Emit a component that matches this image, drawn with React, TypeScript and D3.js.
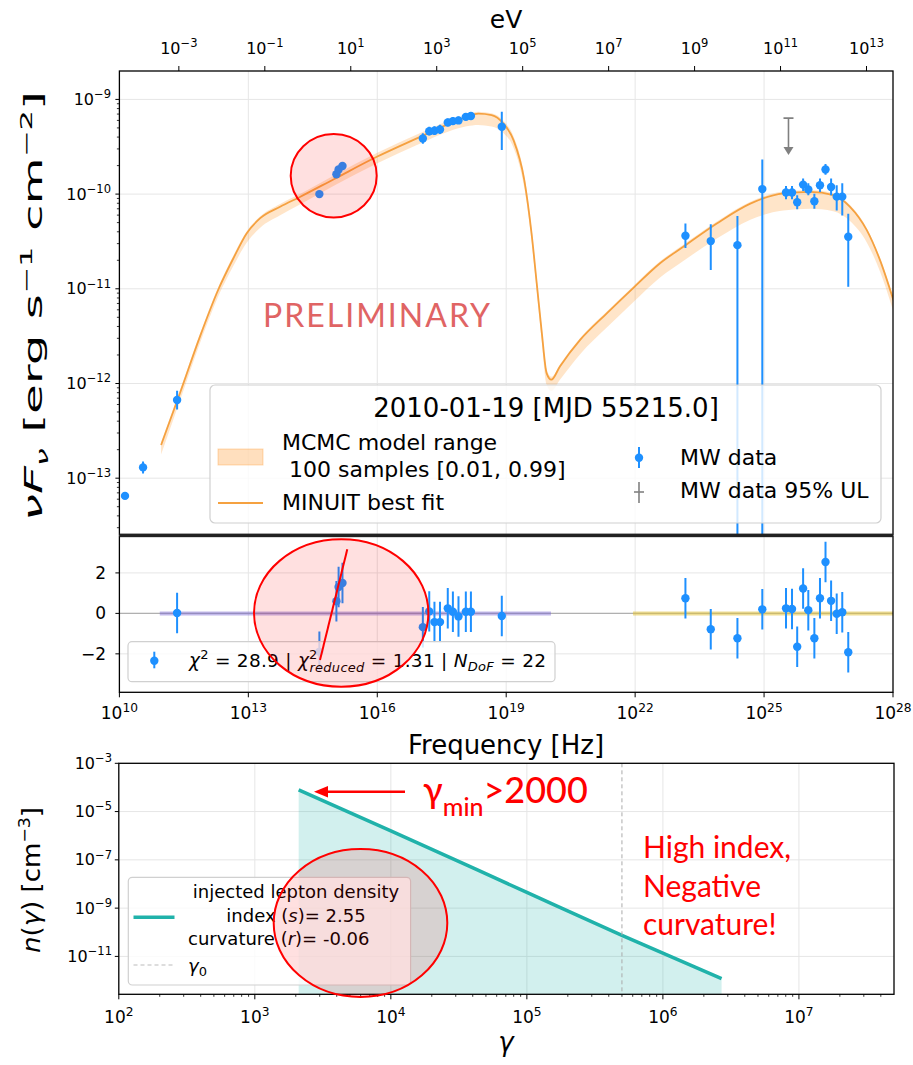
import React from "react";
import * as d3 from "d3";

// ---------------- SED: multi-wavelength data (MW data) ----------------
const dataNu = [1.35e10, 3.55e10, 2.2e11, 4.5e14, 1.12e15, 1.26e15, 1.55e15, 1.15e17, 1.62e17, 2.14e17, 2.88e17, 4.37e17, 5.75e17, 7.76e17, 1.15e18, 1.51e18, 7.9e18, 1.48e23, 5.75e23, 2.4e24, 9.1e24, 3.24e25, 4.47e25, 5.9e25, 8.1e25, 1.07e26, 1.48e26, 2.0e26, 2.69e26, 3.63e26, 4.9e26, 6.6e26, 9.1e26];
const dataFlux = [6.5e-14, 1.3e-13, 6.7e-13, 1.0e-10, 1.62e-10, 1.82e-10, 1.98e-10, 3.87e-10, 4.62e-10, 4.67e-10, 4.82e-10, 5.71e-10, 5.9e-10, 6.0e-10, 6.54e-10, 6.67e-10, 5.14e-10, 3.63e-11, 3.19e-11, 2.89e-11, 1.13e-10, 1.04e-10, 1.04e-10, 8.2e-11, 1.26e-10, 1.12e-10, 8.4e-11, 1.24e-10, 1.82e-10, 1.19e-10, 9.4e-11, 9.4e-11, 3.55e-11];
const dataFluxLo = [6.2e-14, 1.12e-13, 5.3e-13, 0.95e-10, 1.5e-10, 1.68e-10, 1.88e-10, 3.4e-10, 4.15e-10, 4.2e-10, 4.3e-10, 5.2e-10, 5.4e-10, 5.5e-10, 6.0e-10, 6.1e-10, 2.92e-10, 2.7e-11, 1.58e-11, 1e-16, 1e-16, 0.88e-10, 0.88e-10, 6.9e-11, 1.08e-10, 0.97e-10, 7.0e-11, 1.05e-10, 1.6e-10, 0.97e-10, 6.7e-11, 5.96e-11, 1.05e-11];
const dataFluxHi = [6.8e-14, 1.5e-13, 8.4e-13, 1.05e-10, 1.75e-10, 1.97e-10, 2.08e-10, 4.4e-10, 5.15e-10, 5.2e-10, 5.4e-10, 6.3e-10, 6.5e-10, 6.6e-10, 7.2e-10, 7.3e-10, 7.4e-10, 4.9e-11, 4.8e-11, 5.86e-11, 2.32e-10, 1.22e-10, 1.22e-10, 9.7e-11, 1.46e-10, 1.3e-10, 1.01e-10, 1.46e-10, 2.08e-10, 1.46e-10, 1.24e-10, 1.3e-10, 6.2e-11];
const residuals = [null, null, 0.02, -1.9, 0.6, 1.3, 1.5, -0.68, 0.1, -0.43, -0.43, 0.25, 0.08, -0.15, 0.08, 0.08, -0.13, 0.75, -0.78, -1.23, 0.2, 0.25, 0.22, -1.65, 1.23, 0.16, -1.23, 0.75, 2.54, 0.62, -0.02, 0.06, -1.92];
const residualErr = [null, null, 1, 1, 1, 1, 1, 1, 1, 1, 1, 1, 1, 1, 1, 1, 1, 1, 1, 1, 1, 1, 1, 1, 1, 1, 1, 1, 1, 1, 1, 1, 1];

// upper limit (MW data 95% UL)
const ulNu = [3.7e25];
const ulFlux = [6.35e-10];

// ---------------- Model (MINUIT best fit + MCMC range), log10 values ----------------
const modelLogNu = [10.97, 11.41, 11.87, 12.3, 12.65, 12.96, 13.27, 13.74, 14.2, 15.0, 15.99, 17.0, 17.69, 18.08, 18.35, 18.66, 18.93, 19.17, 19.42, 19.59, 19.71, 19.83, 19.94, 20.05, 20.25, 20.72, 21.34, 21.96, 22.58, 23.12, 23.9, 24.68, 25.45, 26.07, 26.61, 27.0, 27.39, 27.7, 28.01];
const modelLogBest = [-12.65, -12.1, -11.51, -11.01, -10.68, -10.415, -10.257, -10.134, -10.03, -9.84, -9.606, -9.395, -9.253, -9.184, -9.15, -9.166, -9.253, -9.43, -9.85, -10.415, -10.94, -11.47, -11.89, -11.96, -11.82, -11.54, -11.26, -10.99, -10.73, -10.556, -10.31, -10.1, -9.993, -9.976, -10.01, -10.134, -10.38, -10.7, -11.12];
const bandLoDelta = [0.1, 0.08, 0.07, 0.07, 0.08, 0.1, 0.1, 0.09, 0.08, 0.07, 0.07, 0.07, 0.08, 0.1, 0.12, 0.12, 0.1, 0.08, 0.08, 0.08, 0.08, 0.1, 0.12, 0.12, 0.14, 0.15, 0.15, 0.15, 0.15, 0.15, 0.16, 0.17, 0.18, 0.18, 0.17, 0.15, 0.13, 0.12, 0.12];
const bandHiDelta = [0.03, 0.03, 0.03, 0.03, 0.03, 0.02, 0.02, 0.03, 0.03, 0.04, 0.04, 0.04, 0.03, 0.02, 0.02, 0.02, 0.03, 0.04, 0.05, 0.05, 0.05, 0.05, 0.04, 0.03, 0.02, 0.02, 0.02, 0.02, 0.02, 0.02, 0.02, 0.02, 0.02, 0.02, 0.02, 0.02, 0.02, 0.02, 0.02];

// residual component ranges (synchrotron / inverse Compton)
const synchRange = [8.7e10, 1.1e20];
const icRange = [8.9e21, 1e28];

// axis ticks
const hzTickExp = [10, 13, 16, 19, 22, 25, 28];
const fluxTickExp = [-13, -12, -11, -10, -9];
const evTickExp = [-3, -1, 1, 3, 5, 7, 9, 11, 13];
const resTicks = [-2, 0, 2];

// ---------------- Electron distribution ----------------
const gammaVals = [2.1e3, 1e4, 1e5, 5e5, 2.7e6];
const nVals = [7.9e-5, 1.6e-6, 4.5e-9, 7.5e-11, 1.2e-12];
const gamma0 = [5e5];
const gammaTickExp = [2, 3, 4, 5, 6, 7];
const nTickExp = [-11, -9, -7, -5, -3];

const FONT = "'DejaVu Sans', sans-serif";
const RFONT = "Lato, 'Open Sans', sans-serif";
const BLUE = "#1e90ff";
const ORANGE = "#f5a140";
const TEAL = "#20b2aa";
const HZ_PER_EV = 2.418e14;

function Pow({ x, y, exp, fs, anchor = "middle", fill = "#000" }: any) {
  return (
    <text x={x} y={y} fontSize={fs} textAnchor={anchor} fontFamily={FONT} fill={fill}>
      10
      <tspan dy={-fs * 0.42} fontSize={fs * 0.72}>
        {exp < 0 ? "\u2212" + Math.abs(exp) : String(exp)}
      </tspan>
    </text>
  );
}

export default function App() {
  const L = 119.4, R = 893;
  const T1 = 71, B1 = 535;
  const T2 = 536.5, B2 = 692.3;
  const L3 = 118.8, R3 = 894, T3 = 763.3, B3 = 994.3;

  const xF = d3.scaleLog().domain([1e10, 1e28]).range([L, R]);
  const yF = d3.scaleLog().domain([Math.pow(10, -13.6), Math.pow(10, -8.7)]).range([B1, T1]);
  const yR = d3.scaleLinear().domain([-3.9, 3.8]).range([B2, T2]);
  const xG = d3.scaleLog().domain([100, 5e7]).range([L3, R3]);
  const yN = d3.scaleLog().domain([Math.pow(10, -12.57), 1e-3]).range([B3, T3]);

  const model = modelLogNu.map((v, i) => ({
    x: xF(Math.pow(10, v)),
    y: yF(Math.pow(10, modelLogBest[i])),
    lo: yF(Math.pow(10, modelLogBest[i] - bandLoDelta[i])),
    hi: yF(Math.pow(10, modelLogBest[i] + bandHiDelta[i])),
  }));
  const linePath = d3.line<any>().x((d) => d.x).y((d) => d.y).curve(d3.curveMonotoneX)(model) || "";
  const bandPath = d3.area<any>().x((d) => d.x).y0((d) => d.lo).y1((d) => d.hi).curve(d3.curveMonotoneX)(model) || "";

  const elec = gammaVals.map((g, i) => ({ x: xG(g), y: yN(nVals[i]) }));
  const elecLine = d3.line<any>().x((d) => d.x).y((d) => d.y).curve(d3.curveMonotoneX)(elec) || "";
  const elecArea = d3.area<any>().x((d) => d.x).y0(B3).y1((d) => d.y).curve(d3.curveMonotoneX)(elec) || "";

  const grid = "#e6e6e6";

  const fluxMinor: number[] = [];
  for (let e = -14; e <= -9; e++) for (let k = 2; k <= 9; k++) {
    const v = k * Math.pow(10, e);
    if (v > Math.pow(10, -13.6) && v < Math.pow(10, -8.7)) fluxMinor.push(v);
  }
  const gammaMinor: number[] = [];
  for (let e = 2; e <= 7; e++) for (let k = 2; k <= 9; k++) {
    const v = k * Math.pow(10, e);
    if (v < 5e7) gammaMinor.push(v);
  }

  return (
    <svg width={913} height={1065} viewBox="0 0 913 1065" style={{ display: "block", position: "absolute", left: 0, top: 0, background: "#fff" }}>
      <defs>
        <clipPath id="c1"><rect x={L} y={T1} width={R - L} height={B1 - T1} /></clipPath>
        <clipPath id="c2"><rect x={L} y={T2} width={R - L} height={B2 - T2} /></clipPath>
        <clipPath id="c3"><rect x={L3} y={T3} width={R3 - L3} height={B3 - T3} /></clipPath>
      </defs>
      <rect x={0} y={0} width={913} height={1065} fill="#fff" />

      {/* ================= TOP PANEL ================= */}
      <text x={506} y={28} fontSize={25} textAnchor="middle" fontFamily={FONT}>eV</text>
      {evTickExp.map((e) => {
        const x = xF(Math.pow(10, e) * HZ_PER_EV);
        return (
          <g key={"ev" + e}>
            <line x1={x} x2={x} y1={T1} y2={T1 - 5} stroke="#000" strokeWidth={1} />
            <Pow x={x} y={54} exp={e} fs={16} />
          </g>
        );
      })}
      {fluxTickExp.map((e) => (
        <line key={"gf" + e} x1={L} x2={R} y1={yF(Math.pow(10, e))} y2={yF(Math.pow(10, e))} stroke={grid} strokeWidth={1} />
      ))}
      {hzTickExp.slice(1, -1).map((e) => (
        <line key={"gx" + e} x1={xF(Math.pow(10, e))} x2={xF(Math.pow(10, e))} y1={T1} y2={B1} stroke={grid} strokeWidth={1} />
      ))}
      <g clipPath="url(#c1)">
        <path d={bandPath} fill="rgba(255,150,40,0.25)" stroke="none" />
        <path d={linePath} fill="none" stroke={ORANGE} strokeWidth={1.8} />
        {dataNu.map((nu, i) => {
          const x = xF(nu);
          return (
            <g key={"d" + i}>
              <line x1={x} x2={x} y1={yF(dataFluxLo[i])} y2={yF(dataFluxHi[i])} stroke={BLUE} strokeWidth={2} />
              <circle cx={x} cy={yF(dataFlux[i])} r={4.2} fill={BLUE} />
            </g>
          );
        })}
        {ulNu.map((nu, i) => {
          const x = xF(nu);
          const y0 = yF(ulFlux[i]);
          const y1 = yF(ulFlux[i] / 2.4);
          return (
            <g key={"ul" + i}>
              <line x1={x - 5} x2={x + 5} y1={y0} y2={y0} stroke="#808080" strokeWidth={1.6} />
              <line x1={x} x2={x} y1={y0} y2={y1 - 6} stroke="#808080" strokeWidth={1.6} />
              <path d={`M${x - 5},${y1 - 7} L${x + 5},${y1 - 7} L${x},${y1 + 1} Z`} fill="#808080" />
            </g>
          );
        })}
      </g>
      {fluxTickExp.map((e) => {
        const y = yF(Math.pow(10, e));
        return (
          <g key={"yt" + e}>
            <line x1={L} x2={L - 4} y1={y} y2={y} stroke="#000" />
            <Pow x={111} y={y + 5.5} exp={e} fs={16} anchor="end" />
          </g>
        );
      })}
      {fluxMinor.map((v, i) => (
        <line key={"ym" + i} x1={L} x2={L - 2.5} y1={yF(v)} y2={yF(v)} stroke="#000" strokeWidth={0.8} />
      ))}
      <rect x={L} y={T1} width={R - L} height={B1 - T1} fill="none" stroke="#000" strokeWidth={1.3} />
      <text transform={`translate(42,306) rotate(-90)`} textAnchor="middle" fontSize={24} fontFamily={FONT} textLength={430} lengthAdjust="spacingAndGlyphs">
        <tspan fontStyle="italic">νF</tspan>
        <tspan dy={6} fontSize={16} fontStyle="italic">ν</tspan>
        <tspan dy={-6}> [erg s</tspan>
        <tspan dy={-10} fontSize={16}>−1</tspan>
        <tspan dy={10}> cm</tspan>
        <tspan dy={-10} fontSize={16}>−2</tspan>
        <tspan dy={10}>]</tspan>
      </text>
      <text x={263} y={326.7} fontSize={32} fontFamily={RFONT} fill="#e06464" letterSpacing={2}>PRELIMINARY</text>

      {/* legend */}
      <rect x={210} y={385} width={671} height={138} rx={5} fill="#fff" fillOpacity={0.8} stroke="#d0d0d0" strokeWidth={1.2} />
      <text x={546} y={417} fontSize={26} textAnchor="middle" fontFamily={FONT}>2010-01-19 [MJD 55215.0]</text>
      <rect x={218} y={449} width={45} height={16} fill="rgba(255,150,40,0.3)" stroke="rgba(255,150,40,0.35)" />
      <text x={282} y={450} fontSize={22} fontFamily={FONT}>MCMC model range</text>
      <text x={282} y={477} fontSize={22} fontFamily={FONT}>{"\u00a0100 samples [0.01, 0.99]"}</text>
      <line x1={218} x2={263} y1={503} y2={503} stroke={ORANGE} strokeWidth={2} />
      <text x={282} y={510} fontSize={22} fontFamily={FONT}>MINUIT best fit</text>
      <line x1={639} x2={639} y1={447} y2={468} stroke={BLUE} strokeWidth={2} />
      <circle cx={639} cy={457.7} r={4.2} fill={BLUE} />
      <text x={680} y={465} fontSize={22} fontFamily={FONT}>MW data</text>
      <line x1={639} x2={639} y1={482} y2={503} stroke="#808080" strokeWidth={1.6} />
      <line x1={634} x2={644} y1={492} y2={492} stroke="#808080" strokeWidth={1.6} />
      <text x={680} y={498} fontSize={22} fontFamily={FONT}>MW data 95% UL</text>

      {/* ================= RESIDUAL PANEL ================= */}
      {resTicks.map((t) => (
        <line key={"gr" + t} x1={L} x2={R} y1={yR(t)} y2={yR(t)} stroke={grid} />
      ))}
      {hzTickExp.slice(1, -1).map((e) => (
        <line key={"gx2" + e} x1={xF(Math.pow(10, e))} x2={xF(Math.pow(10, e))} y1={T2} y2={B2} stroke={grid} />
      ))}
      <g clipPath="url(#c2)">
        <line x1={L} x2={R} y1={yR(0)} y2={yR(0)} stroke="#b0b0b0" strokeWidth={1.2} />
        <line x1={xF(synchRange[0])} x2={xF(synchRange[1])} y1={yR(0)} y2={yR(0)} stroke="rgba(120,100,210,0.45)" strokeWidth={4} />
        <line x1={xF(icRange[0])} x2={xF(icRange[1])} y1={yR(0)} y2={yR(0)} stroke="rgba(225,195,60,0.55)" strokeWidth={4} />
        {dataNu.map((nu, i) => {
          if (residuals[i] === null) return null;
          const x = xF(nu);
          const r = residuals[i] as number;
          const e = residualErr[i] as number;
          return (
            <g key={"r" + i}>
              <line x1={x} x2={x} y1={yR(r - e)} y2={yR(r + e)} stroke={BLUE} strokeWidth={2} />
              <circle cx={x} cy={yR(r)} r={4.2} fill={BLUE} />
            </g>
          );
        })}
      </g>
      {resTicks.map((t) => (
        <g key={"rt" + t}>
          <line x1={L} x2={L - 4} y1={yR(t)} y2={yR(t)} stroke="#000" />
          <text x={106} y={yR(t) + 6} fontSize={17} textAnchor="end" fontFamily={FONT}>{t < 0 ? "\u2212" + Math.abs(t) : String(t)}</text>
        </g>
      ))}
      <rect x={128} y={641.7} width={427} height={40} rx={4} fill="#fff" fillOpacity={0.8} stroke="#d0d0d0" strokeWidth={1.2} />
      <line x1={154.3} x2={154.3} y1={651.7} y2={668.3} stroke={BLUE} strokeWidth={2} />
      <circle cx={154.3} cy={660.7} r={4.2} fill={BLUE} />
      <text x={189} y={667} fontSize={18.5} fontFamily={FONT} textLength={357} lengthAdjust="spacing">
        <tspan fontStyle="italic">χ</tspan>
        <tspan dy={-8} fontSize={13}>2</tspan>
        <tspan dy={8}>{" = 28.9 | "}</tspan>
        <tspan fontStyle="italic">χ</tspan>
        <tspan dy={-8} fontSize={13}>2</tspan>
        <tspan dx={-8.2} dy={13} fontSize={13} fontStyle="italic">reduced</tspan>
        <tspan dy={-5}>{" = 1.31 |  "}</tspan>
        <tspan fontStyle="italic">N</tspan>
        <tspan dy={4} fontSize={13} fontStyle="italic">DoF</tspan>
        <tspan dy={-4}>{" = 22"}</tspan>
      </text>
      <rect x={L} y={T2} width={R - L} height={B2 - T2} fill="none" stroke="#000" strokeWidth={1.3} />
      <rect x={L} y={533.6} width={R - L} height={3.4} fill="#222" />
      {hzTickExp.map((e) => {
        const x = xF(Math.pow(10, e));
        return (
          <g key={"xt" + e}>
            <line x1={x} x2={x} y1={B2} y2={B2 + 5} stroke="#000" />
            <Pow x={x} y={719} exp={e} fs={17} />
          </g>
        );
      })}
      <text x={506} y={754} fontSize={26} textAnchor="middle" fontFamily={FONT}>Frequency [Hz]</text>

      {/* ================= ELECTRON PANEL ================= */}
      {nTickExp.slice(0, -1).map((e) => (
        <line key={"gn" + e} x1={L3} x2={R3} y1={yN(Math.pow(10, e))} y2={yN(Math.pow(10, e))} stroke={grid} />
      ))}
      {gammaTickExp.slice(1).map((e) => (
        <line key={"gg" + e} x1={xG(Math.pow(10, e))} x2={xG(Math.pow(10, e))} y1={T3} y2={B3} stroke={grid} />
      ))}
      <g clipPath="url(#c3)">
        <path d={elecArea} fill="rgba(32,178,170,0.2)" stroke="none" />
        <path d={elecLine} fill="none" stroke={TEAL} strokeWidth={3.5} />
        {gamma0.map((g, i) => (
          <line key={"g0" + i} x1={xG(g)} x2={xG(g)} y1={T3} y2={B3} stroke="#aaaaaa" strokeWidth={1} strokeDasharray="4,3" />
        ))}
      </g>
      {nTickExp.map((e) => {
        const y = yN(Math.pow(10, e));
        return (
          <g key={"nt" + e}>
            <line x1={L3} x2={L3 - 4} y1={y} y2={y} stroke="#000" />
            <Pow x={112} y={y + 5.5} exp={e} fs={16} anchor="end" />
          </g>
        );
      })}
      {gammaTickExp.map((e) => {
        const x = xG(Math.pow(10, e));
        return (
          <g key={"gt" + e}>
            <line x1={x} x2={x} y1={B3} y2={B3 + 5} stroke="#000" />
            <Pow x={x} y={1023} exp={e} fs={17} />
          </g>
        );
      })}
      {gammaMinor.map((v, i) => (
        <line key={"gm" + i} x1={xG(v)} x2={xG(v)} y1={B3} y2={B3 + 2.5} stroke="#000" strokeWidth={0.8} />
      ))}
      <rect x={L3} y={T3} width={R3 - L3} height={B3 - T3} fill="none" stroke="#000" strokeWidth={1.3} />
      <text transform={`translate(40,880) rotate(-90)`} textAnchor="middle" fontSize={24} fontFamily={FONT} textLength={146} lengthAdjust="spacingAndGlyphs">
        <tspan fontStyle="italic">n</tspan>
        <tspan>(</tspan>
        <tspan fontStyle="italic">γ</tspan>
        <tspan>) [cm</tspan>
        <tspan dy={-10} fontSize={16}>−3</tspan>
        <tspan dy={10}>]</tspan>
      </text>
      <text x={506} y={1051} fontSize={26} textAnchor="middle" fontStyle="italic" fontFamily={FONT}>γ</text>

      {/* electron legend */}
      <rect x={128.3} y={877.3} width={282.3} height={107.7} rx={4} fill="#fff" fillOpacity={0.8} stroke="#d0d0d0" strokeWidth={1.2} />
      <line x1={133.5} x2={174.5} y1={917.3} y2={917.3} stroke={TEAL} strokeWidth={3.5} />
      <text x={296} y={898.3} fontSize={18} textAnchor="middle" fontFamily={FONT}>injected lepton density</text>
      <text x={296} y={921.7} fontSize={18} textAnchor="middle" fontFamily={FONT}>
        index (<tspan fontStyle="italic">s</tspan>)= 2.55
      </text>
      <text x={188} y={945} fontSize={18} fontFamily={FONT}>
        curvature (<tspan fontStyle="italic">r</tspan>)= -0.06
      </text>
      <line x1={133.5} x2={174.5} y1={965} y2={965} stroke="#bbbbbb" strokeWidth={1.2} strokeDasharray="4,3" />
      <text x={188} y={972} fontSize={18} fontFamily={FONT} fontStyle="italic">
        γ<tspan dy={4} fontSize={13} fontStyle="normal">0</tspan>
      </text>

      {/* ================= RED ANNOTATIONS ================= */}
      <ellipse cx={333.7} cy={175.7} rx={43} ry={41.7} fill="rgba(255,0,0,0.12)" stroke="#ff0000" strokeWidth={2} />
      <ellipse cx={341.2} cy={613} rx={87.2} ry={73.7} fill="rgba(255,0,0,0.12)" stroke="#ff0000" strokeWidth={2} />
      <line x1={320} y1={660} x2={347.3} y2={549.3} stroke="#ff0000" strokeWidth={2} />
      <ellipse cx={360.5} cy={923} rx={86.8} ry={74} fill="rgba(255,0,0,0.12)" stroke="#ff0000" strokeWidth={2} />
      <line x1={405} x2={326} y1={791.7} y2={791.7} stroke="#ff0000" strokeWidth={2.5} />
      <path d="M314,791.7 L328,786 L328,797.4 Z" fill="#ff0000" />
      <text x={423} y={803.3} fontSize={36} fontFamily={RFONT} fill="#ff0000" fontWeight={500}>
        γ<tspan dy={13} fontSize={25}>min</tspan>
        <tspan dy={-13}>{">2000"}</tspan>
      </text>
      <text x={643} y={858.3} fontSize={30} fontFamily={RFONT} fill="#ff0000">High index,</text>
      <text x={643} y={896.7} fontSize={30} fontFamily={RFONT} fill="#ff0000">Negative</text>
      <text x={643} y={935} fontSize={30} fontFamily={RFONT} fill="#ff0000">curvature!</text>
    </svg>
  );
}
